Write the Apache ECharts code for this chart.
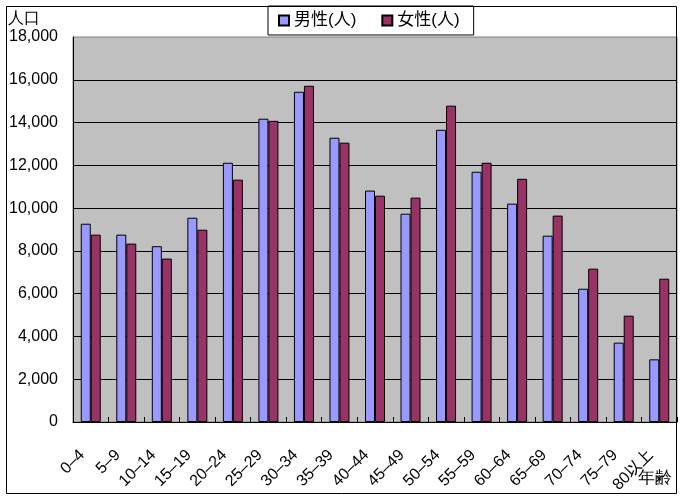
<!DOCTYPE html>
<html><head><meta charset="utf-8">
<script src="https://cdn.jsdelivr.net/npm/echarts@6/dist/echarts.min.js"></script>
<style>html,body{margin:0;padding:0;background:#fff}#c{width:683px;height:499px}</style>
</head><body><div id="c"></div>
<script>
const categories = ['0–4','5–9','10–14','15–19','20–24','25–29','30–34','35–39','40–44','45–49','50–54','55–59','60–64','65–69','70–74','75–79','80以上'];
const male = [9270,8760,8220,9550,12120,14180,15440,13290,10820,9740,13660,11700,10210,8710,6230,3710,2930];
const female = [8760,8340,7640,8990,11330,14080,15720,13060,10580,10490,14790,12120,11370,9650,7170,4970,6700];
const yTicks = {min:0, max:18000, interval:2000};
const seriesNames = ['男性(人)','女性(人)'];
const yName = '人口';
const xName = '年齢';

const FONT = '"Liberation Sans","Noto Sans CJK JP",sans-serif';
const chart = echarts.init(document.getElementById('c'), null, {renderer:'canvas'});
chart.setOption({
  animation:false,
  backgroundColor:'#ffffff',
  textStyle:{fontFamily:FONT},
  legend:{
    left:268, top:6,
    padding:[6,14,6,10], itemGap:25,
    itemWidth:10, itemHeight:10,
    backgroundColor:'#ffffff', borderColor:'#000', borderWidth:1,
    textStyle:{fontSize:17, color:'#000', fontFamily:FONT},
    data:seriesNames.map(n=>({name:n, icon:'rect'}))
  },
  grid:{left:73, right:6, top:37, bottom:77, containLabel:false, outerBoundsMode:'none',
    show:true, backgroundColor:'#C0C0C0', borderColor:'#808080', borderWidth:1},
  xAxis:{
    type:'category', data:categories,
    axisLine:{show:true, lineStyle:{color:'#000', width:1}},
    axisTick:{show:true, inside:true, length:5, lineStyle:{color:'#000'}},
    axisLabel:{rotate:45, margin:22, fontSize:16, color:'#000', fontFamily:FONT, interval:0,
      align:'right', verticalAlign:'middle',
      formatter:v=>'{a|'+v+'}{b|}',
      rich:{a:{fontSize:16, color:'#000', fontFamily:FONT}, b:{width:12, height:1}}},
    splitLine:{show:false}
  },
  yAxis:{
    type:'value', min:yTicks.min, max:yTicks.max, interval:yTicks.interval,
    axisLine:{show:true, lineStyle:{color:'#000', width:1}},
    axisTick:{show:false},
    axisLabel:{margin:15, fontSize:16, color:'#000', fontFamily:FONT,
      formatter:v=>v.toLocaleString('en-US')},
    splitLine:{show:true, showMaxLine:false, lineStyle:{color:'#000', width:1}}
  },
  series:[
    {name:seriesNames[0], type:'bar', data:male, barWidth:10, barGap:'0%',
      itemStyle:{color:'#9999FF', borderColor:'#000', borderWidth:1}},
    {name:seriesNames[1], type:'bar', data:female, barWidth:10, barGap:'0%',
      itemStyle:{color:'#993366', borderColor:'#000', borderWidth:1}}
  ],
  graphic:[
    {type:'rect', shape:{x:6.5, y:6.5, width:670, height:487}, style:{fill:null, stroke:'#000', lineWidth:1}, z:100, silent:true},
    {type:'text', left:8, top:11, style:{text:yName, fontSize:16, fill:'#000', font:'16px '+FONT}},
    {type:'text', left:638, top:470, style:{text:xName, fontSize:17, fill:'#000', font:'17px '+FONT}}
  ]
});
</script></body></html>
